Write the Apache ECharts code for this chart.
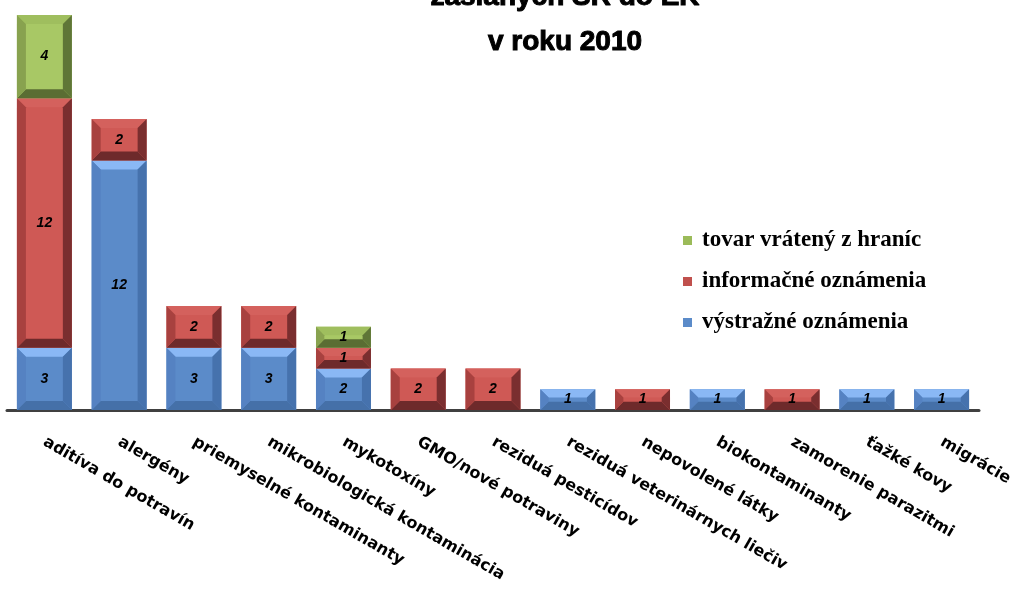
<!DOCTYPE html>
<html><head><meta charset="utf-8">
<script src="https://cdn.jsdelivr.net/npm/echarts@6/dist/echarts.min.js"></script>
<style>html,body{margin:0;padding:0;background:#fff}#c{width:1016px;height:590px}</style>
</head><body><div id="c"></div>
<script>
const categories = ['aditíva do potravín','alergény','priemyselné kontaminanty','mikrobiologická kontaminácia','mykotoxíny','GMO/nové potraviny','reziduá pesticídov','reziduá veterinárnych liečiv','nepovolené látky','biokontaminanty','zamorenie parazitmi','ťažké kovy','migrácie'];
const vystrazne = [3,12,3,3,2,0,0,1,0,1,0,1,1];
const informacne = [12,2,2,2,1,2,2,0,1,0,1,0,0];
const tovar = [4,0,0,0,1,0,0,0,0,0,0,0,0];
const seriesNames = ['výstražné oznámenia','informačné oznámenia','tovar vrátený z hraníc'];

const palettes = [
  {face:'#5b8bc9', top:'#8ab8f5', left:'#5582c2', right:'#4672ad', bottom:'#4570a8', legend:'#5b8bc9'},
  {face:'#cf5955', top:'#d4615d', left:'#a8413f', right:'#7a2e2f', bottom:'#6e2a2b', legend:'#c0504d'},
  {face:'#a8c865', top:'#9fbe5e', left:'#88a24f', right:'#5f7637', bottom:'#5a6d33', legend:'#9bbb59'}
];

const allVals = [vystrazne, informacne, tovar];
const base = categories.map(() => 0);
const seriesData = allVals.map(vals => {
  const d = [];
  vals.forEach((v, i) => {
    if (v > 0) { d.push([i, base[i], base[i] + v, v]); }
    base[i] += v;
  });
  return d;
});

function makeRender(p) {
  return function (params, api) {
    const i = api.value(0), s = api.value(1), e = api.value(2), v = api.value(3);
    const p0 = api.coord([i, s]), p1 = api.coord([i, e]);
    const bw = api.size([1, 0])[0] * 0.735;
    const x = p0[0] - bw / 2, w = bw, y = p1[1], h = p0[1] - p1[1];
    const b = Math.min(9, h * 0.4);
    const poly = (pts, c) => ({type:'polygon', shape:{points:pts}, style:{fill:c}});
    return {
      type:'group',
      children:[
        {type:'rect', shape:{x:x, y:y, width:w, height:h}, style:{fill:p.face}},
        poly([[x,y],[x+w,y],[x+w-b,y+b],[x+b,y+b]], p.top),
        poly([[x,y+h],[x+w,y+h],[x+w-b,y+h-b],[x+b,y+h-b]], p.bottom),
        poly([[x,y],[x+b,y+b],[x+b,y+h-b],[x,y+h]], p.left),
        poly([[x+w,y],[x+w-b,y+b],[x+w-b,y+h-b],[x+w,y+h]], p.right),
        {type:'text', style:{text:String(v), x:x + w/2, y:y + h/2, align:'center', verticalAlign:'middle',
          font:'italic bold 14px "Liberation Sans", Arial, sans-serif', fill:'#000'}}
      ]
    };
  };
}

const chart = echarts.init(document.getElementById('c'), null, {renderer:'canvas'});
chart.setOption({
  animation:false,
  title:{
    text:'zaslaných SR do EK\nv roku 2010',
    left:560, textAlign:'center', top:-30,
    textStyle:{fontFamily:'"Liberation Sans", Arial, sans-serif', fontWeight:'bold', fontSize:28, lineHeight:45, color:'#000',
      textBorderColor:'#000', textBorderWidth:1}
  },
  legend:{
    orient:'vertical', left:683, top:229, itemGap:18, padding:0,
    icon:'rect', itemWidth:9, itemHeight:9,
    data:['tovar vrátený z hraníc','informačné oznámenia','výstražné oznámenia'],
    textStyle:{fontFamily:'"Liberation Serif", "DejaVu Serif", serif', fontWeight:'bold', fontSize:23, lineHeight:23, color:'#000',
      padding:[0,0,0,5]}
  },
  grid:{left:7, right:37, top:15, bottom:180},
  xAxis:{
    type:'category', data:categories,
    axisLine:{lineStyle:{color:'#404040', width:3}},
    axisTick:{show:false},
    axisLabel:{rotate:-30, margin:31, interval:0, color:'#000',
      fontFamily:'"DejaVu Sans", Verdana, sans-serif', fontWeight:'bold', fontSize:16}
  },
  yAxis:{type:'value', min:0, max:19, show:false, splitLine:{show:false}},
  series: seriesNames.map((n, k) => ({
    name:n, type:'custom', renderItem:makeRender(palettes[k]),
    itemStyle:{color:palettes[k].legend},
    encode:{x:0, y:[1,2]},
    data:seriesData[k]
  }))
});
</script></body></html>
